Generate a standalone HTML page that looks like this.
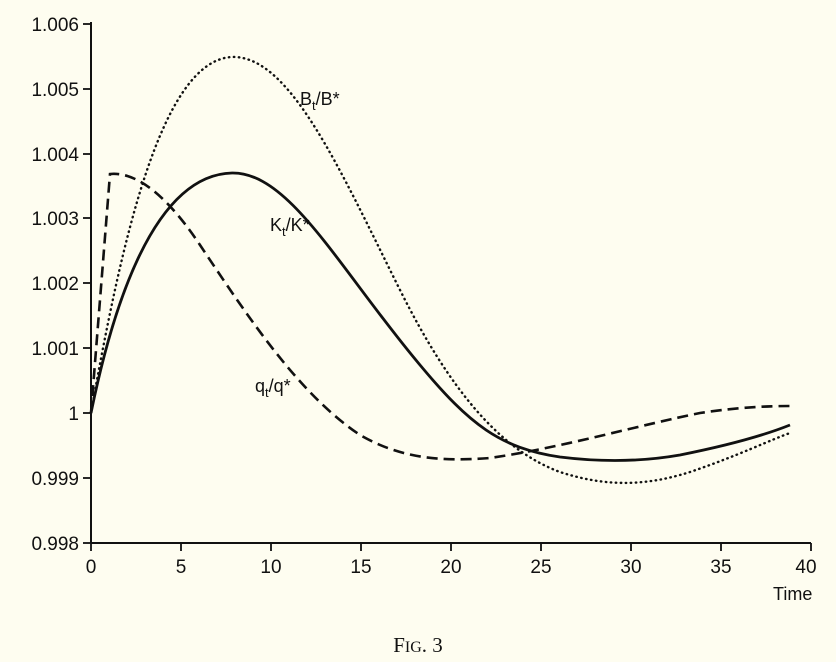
<!DOCTYPE html>
<html><head><meta charset="utf-8"><style>
body{margin:0;background:#fefdf0;}
svg{display:block;font-family:"Liberation Sans",sans-serif;}
</style></head><body>
<svg width="836" height="662" viewBox="0 0 836 662">
<rect width="836" height="662" fill="#fefdf0"/>
<g stroke="#111" stroke-width="2" fill="none">
<line x1="91" y1="22" x2="91" y2="543"/>
<line x1="91" y1="543" x2="811" y2="543"/>
<g stroke-width="1.8">
<line x1="83" y1="24" x2="91" y2="24"/><line x1="83" y1="89" x2="91" y2="89"/>
<line x1="83" y1="154" x2="91" y2="154"/><line x1="83" y1="218" x2="91" y2="218"/>
<line x1="83" y1="283" x2="91" y2="283"/><line x1="83" y1="348" x2="91" y2="348"/>
<line x1="83" y1="413" x2="91" y2="413"/><line x1="83" y1="478" x2="91" y2="478"/>
<line x1="83" y1="543" x2="91" y2="543"/>
<line x1="91" y1="543" x2="91" y2="551"/><line x1="181" y1="543" x2="181" y2="551"/>
<line x1="271" y1="543" x2="271" y2="551"/><line x1="361" y1="543" x2="361" y2="551"/>
<line x1="451" y1="543" x2="451" y2="551"/><line x1="541" y1="543" x2="541" y2="551"/>
<line x1="631" y1="543" x2="631" y2="551"/><line x1="721" y1="543" x2="721" y2="551"/>
<line x1="811" y1="543" x2="811" y2="551"/>
</g>
<path stroke-width="2.4" stroke-dasharray="0.5,4.5" stroke-linecap="round" d="M91,413 C120,250 160,60 232,57 C290,55 340,170 400,290 C450,390 500,450 560,472 C600,485 640,488 690,472 C740,455 770,440 790,433"/>
<path stroke-width="2.8" d="M91,413 C110,320 150,175 232,173 C290,172 340,270 420,365 C470,425 500,448 560,457 C600,462 640,462 680,455 C730,445 765,435 790,425"/>
<path stroke-width="2.6" stroke-dasharray="11,6" d="M91,413 L110,174 C130,172 160,185 200,245 C250,320 300,395 360,435 C400,458 440,462 490,458 C560,448 640,425 700,413 C740,407 770,406 790,406"/>
</g>
<g font-size="19" fill="#111">
<g text-anchor="end">
<text x="79" y="31">1.006</text><text x="79" y="96">1.005</text><text x="79" y="161">1.004</text>
<text x="79" y="225">1.003</text><text x="79" y="290">1.002</text><text x="79" y="355">1.001</text>
<text x="79" y="420">1</text><text x="79" y="485">0.999</text><text x="79" y="550">0.998</text>
</g>
<g text-anchor="middle">
<text x="91" y="573">0</text><text x="181" y="573">5</text><text x="271" y="573">10</text>
<text x="361" y="573">15</text><text x="451" y="573">20</text><text x="541" y="573">25</text>
<text x="631" y="573">30</text><text x="721" y="573">35</text><text x="806" y="573">40</text>
</g>
<text x="773" y="600" font-size="18">Time</text>
<text x="300" y="105" font-size="18">B<tspan font-size="13" dy="5">t</tspan><tspan dy="-5">/B*</tspan></text>
<text x="270" y="231" font-size="18">K<tspan font-size="13" dy="5">t</tspan><tspan dy="-5">/K*</tspan></text>
<text x="255" y="392" font-size="18">q<tspan font-size="13" dy="5">t</tspan><tspan dy="-5">/q*</tspan></text>
</g>
<text x="418" y="652" text-anchor="middle" font-family="Liberation Serif,serif" font-size="21" fill="#111">F<tspan font-size="16">IG</tspan>. 3</text>
</svg>
</body></html>
